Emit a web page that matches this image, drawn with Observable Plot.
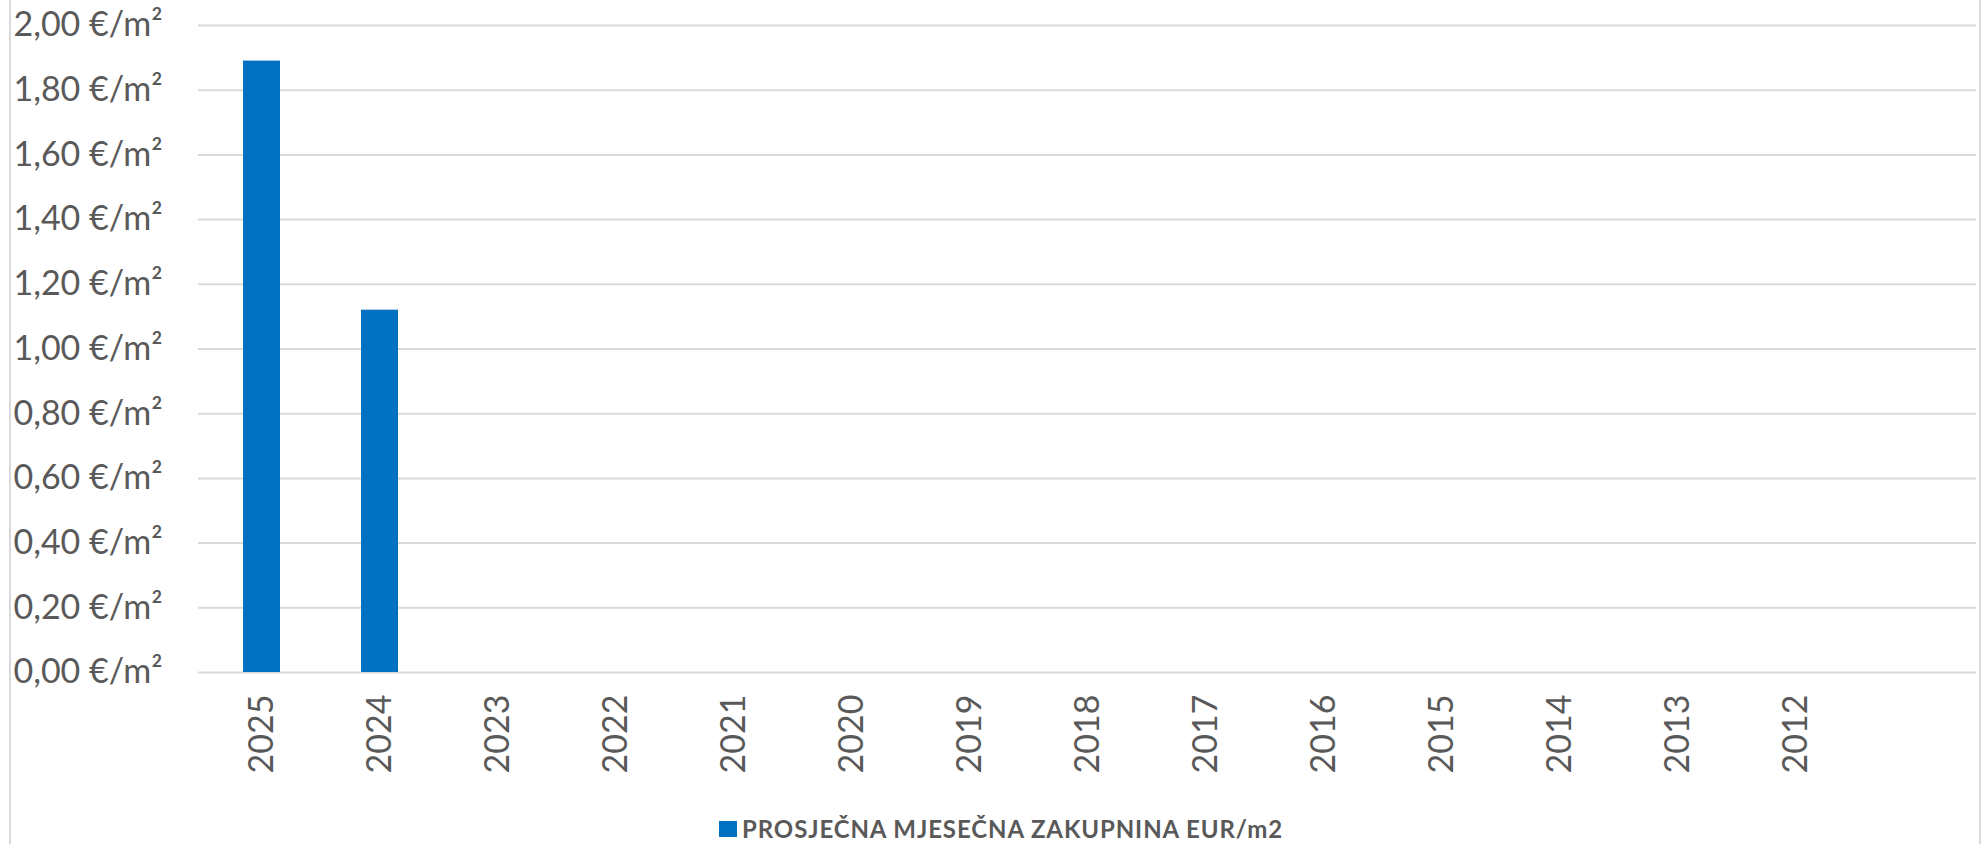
<!DOCTYPE html>
<html>
<head>
<meta charset="utf-8">
<script src="https://cdn.jsdelivr.net/npm/d3@7"></script>
<script src="https://cdn.jsdelivr.net/npm/@observablehq/plot@0.6"></script>
<style>
  html, body { margin: 0; padding: 0; background: #fff; }
  #wrap { position: relative; width: 1984px; height: 844px; box-sizing: border-box; overflow: hidden; }
  #frame { position: absolute; left: 9px; top: -2px; width: 1972px; height: 850px; box-sizing: border-box; border: 2px solid #d9d9d9; pointer-events: none; }
  #chart { position: absolute; left: 0; top: 0; }
  #sw { position: absolute; left: 719px; top: 821px; width: 18px; height: 16px; background: #0070C0; }
  #lt { position: absolute; left: 742px; top: 817px; white-space: nowrap; font-family: Lato, "Open Sans", sans-serif; font-weight: bold; font-size: 24px; letter-spacing: 0.9px; color: #595959; line-height: 24px; }
</style>
</head>
<body>
<div id="wrap">
  <div id="chart"></div>
  <div id="sw"></div>
  <div id="lt"></div>
  <div id="frame"></div>
</div>
<script>
const years = ["2025","2024","2023","2022","2021","2020","2019","2018","2017","2016","2015","2014","2013","2012"];
const values = [1.89, 1.12, null, null, null, null, null, null, null, null, null, null, null, null];
const yTicks = [0, 0.2, 0.4, 0.6, 0.8, 1.0, 1.2, 1.4, 1.6, 1.8, 2.0];
const seriesName = "PROSJEČNA MJESEČNA ZAKUPNINA EUR/m2";

document.getElementById("lt").textContent = seriesName;

const data = years.map((y, i) => ({year: y, value: values[i]})).filter(d => d.value != null);
const fmt = v => v.toFixed(2).replace(".", ",") + " €/m²";

const chart = Plot.plot({
  width: 1984,
  height: 780,
  marginLeft: 198,
  marginRight: 8,
  marginTop: 25,
  marginBottom: 108,
  style: {fontFamily: "Lato, 'Open Sans', sans-serif", fontSize: "34px", color: "#595959", background: "transparent"},
  x: {domain: [...years, ""], paddingInner: 0.688, paddingOuter: 0.344, label: null},
  y: {domain: [0, 2], label: null},
  marks: [
    Plot.ruleY(yTicks, {stroke: "#d9d9d9", strokeWidth: 2}),
    Plot.barY(data, {x: "year", y: "value", fill: "#0070C0"}),
    Plot.axisY(yTicks, {tickSize: 0, tickPadding: 36, tickFormat: fmt, label: null, fill: "#595959", fontSize: 34}),
    Plot.axisX({tickSize: 0, tickPadding: 22, tickRotate: -90, label: null, fill: "#595959", fontSize: 34})
  ]
});
document.getElementById("chart").appendChild(chart);
</script>
</body>
</html>
